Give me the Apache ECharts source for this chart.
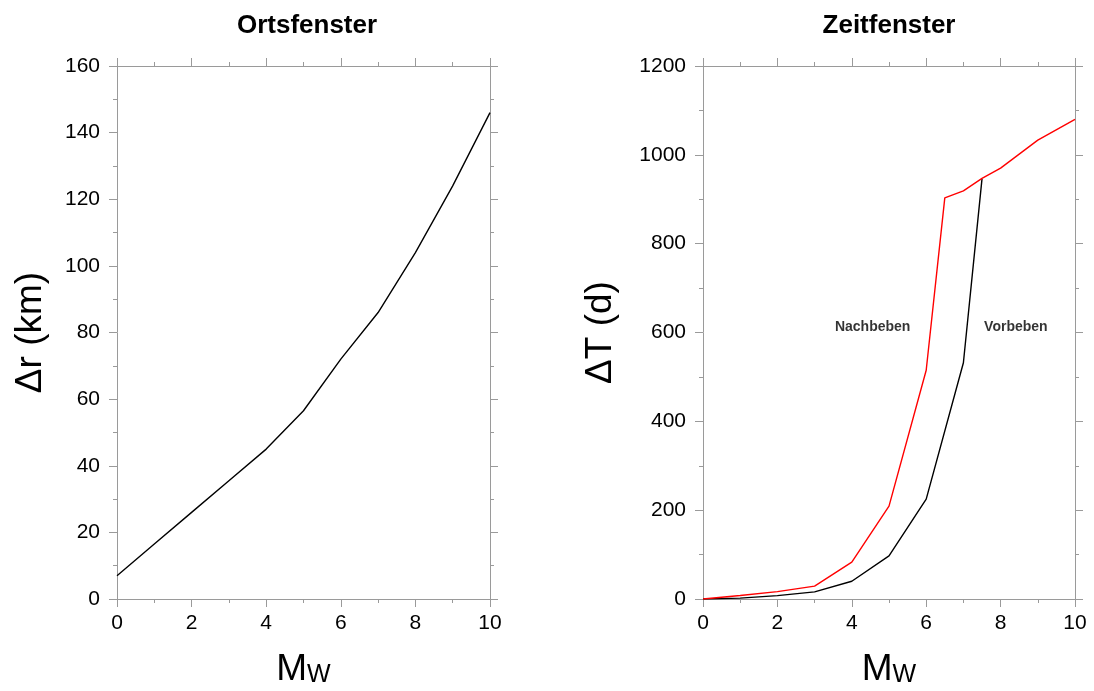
<!DOCTYPE html>
<html>
<head>
<meta charset="utf-8">
<title>Ortsfenster / Zeitfenster</title>
<script src="https://cdn.jsdelivr.net/npm/echarts@6/dist/echarts.min.js"></script>
<style>
  html, body { margin: 0; padding: 0; background: #fff; }
  #chart { width: 1094px; height: 691px; }
</style>
</head>
<body>
<div id="chart"></div>
<script>
// Ortsfenster: spatial window radius vs. moment magnitude
const mwSpace = [0, 1, 2, 3, 4, 5, 6, 7, 8, 9, 10];
const radiusKm = [7, 16.5, 26, 35.5, 45, 56.5, 72, 86, 104, 124, 146];

// Zeitfenster: time window (days) for aftershocks and foreshocks
const mwAfter = [0, 1, 2, 3, 4, 5, 6, 6.5, 7, 7.5, 8, 9, 10];
const daysAfter = [0, 8, 16.5, 29, 83, 209, 515, 903, 919, 947, 970, 1033, 1080];
const mwBefore = [0, 1, 2, 3, 4, 5, 6, 7, 7.5];
const daysBefore = [0, 2, 7.5, 16, 40, 97, 225, 532, 946];

// Curve annotations
const noteNames = ['Nachbeben', 'Vorbeben'];
const noteMw = [4.56, 8.41];
const noteDays = [612, 612];

const titles = ['Ortsfenster', 'Zeitfenster'];
const FONT = '"Liberation Sans", Helvetica, Arial, sans-serif';
const AXIS_GREY = '#9a9a9a';

const pairs = (xs, ys) => xs.map((x, i) => [x, ys[i]]);
const plain = v => String(v);

const mwName = '{m|M}{w|W}';
const mwRich = {
  m: { fontSize: 37, fontFamily: FONT, color: '#000', verticalAlign: 'top', lineHeight: 37 },
  w: { fontSize: 25, fontFamily: FONT, color: '#000', verticalAlign: 'bottom', lineHeight: 25, padding: [21, 0, 0, 0] }
};

function xAxisMain(gridIndex) {
  return {
    type: 'value', gridIndex, min: 0, max: 10, interval: 2,
    position: 'bottom',
    axisLine: { show: true, onZero: false, lineStyle: { color: AXIS_GREY, width: 1 } },
    axisTick: { show: true, inside: false, length: 8, lineStyle: { color: AXIS_GREY } },
    minorTick: { show: true, splitNumber: 2, length: 4, lineStyle: { color: AXIS_GREY } },
    splitLine: { show: false },
    axisLabel: { color: '#000', fontSize: 21, fontFamily: FONT, margin: 14, formatter: plain },
    name: mwName, nameLocation: 'middle', nameGap: 52,
    nameTextStyle: { rich: mwRich }
  };
}
function xAxisMirror(gridIndex) {
  return {
    type: 'value', gridIndex, min: 0, max: 10, interval: 2,
    position: 'top',
    axisLine: { show: true, onZero: false, lineStyle: { color: AXIS_GREY, width: 1 } },
    axisTick: { show: true, inside: false, length: 8, lineStyle: { color: AXIS_GREY } },
    minorTick: { show: true, splitNumber: 2, length: 4, lineStyle: { color: AXIS_GREY } },
    splitLine: { show: false },
    axisLabel: { show: false }
  };
}
function yAxisMain(gridIndex, max, interval, name, gap) {
  return {
    type: 'value', gridIndex, min: 0, max, interval,
    position: 'left',
    axisLine: { show: true, onZero: false, lineStyle: { color: AXIS_GREY, width: 1 } },
    axisTick: { show: true, inside: false, length: 8, lineStyle: { color: AXIS_GREY } },
    minorTick: { show: true, splitNumber: 2, length: 4, lineStyle: { color: AXIS_GREY } },
    splitLine: { show: false },
    axisLabel: { color: '#000', fontSize: 21, fontFamily: FONT, margin: 17, formatter: plain },
    name, nameLocation: 'middle', nameGap: gap, nameRotate: 90,
    nameTextStyle: { color: '#000', fontSize: 37, fontFamily: FONT }
  };
}
function yAxisMirror(gridIndex, max, interval) {
  return {
    type: 'value', gridIndex, min: 0, max, interval,
    position: 'right',
    axisLine: { show: true, onZero: false, lineStyle: { color: AXIS_GREY, width: 1 } },
    axisTick: { show: true, inside: false, length: 8, lineStyle: { color: AXIS_GREY } },
    minorTick: { show: true, splitNumber: 2, length: 4, lineStyle: { color: AXIS_GREY } },
    splitLine: { show: false },
    axisLabel: { show: false }
  };
}

const chart = echarts.init(document.getElementById('chart'), null, { renderer: 'canvas' });

chart.setOption({
  backgroundColor: '#fff',
  animation: false,
  title: [
    { text: titles[0], left: 302, top: 8, textAlign: 'center',
      textStyle: { fontSize: 26, fontWeight: 'bold', fontFamily: FONT, color: '#000' } },
    { text: titles[1], left: 884, top: 8, textAlign: 'center',
      textStyle: { fontSize: 26, fontWeight: 'bold', fontFamily: FONT, color: '#000' } }
  ],
  grid: [
    { left: 117, top: 66, width: 373, height: 533, outerBoundsMode: 'none', containLabel: false },
    { left: 703, top: 66, width: 372, height: 533, outerBoundsMode: 'none', containLabel: false }
  ],
  xAxis: [xAxisMain(0), xAxisMirror(0), xAxisMain(1), xAxisMirror(1)],
  yAxis: [
    yAxisMain(0, 160, 20, 'Δr (km)', 68), yAxisMirror(0, 160, 20),
    yAxisMain(1, 1200, 200, 'ΔT (d)', 84), yAxisMirror(1, 1200, 200)
  ],
  series: [
    {
      type: 'line', xAxisIndex: 0, yAxisIndex: 0,
      data: pairs(mwSpace, radiusKm),
      symbol: 'none', lineStyle: { color: '#000', width: 1.4 }
    },
    {
      type: 'line', xAxisIndex: 2, yAxisIndex: 2,
      data: pairs(mwBefore, daysBefore),
      symbol: 'none', lineStyle: { color: '#000', width: 1.4 }
    },
    {
      type: 'line', xAxisIndex: 2, yAxisIndex: 2,
      data: pairs(mwAfter, daysAfter),
      symbol: 'none', lineStyle: { color: '#ff0000', width: 1.4 }
    },
    {
      type: 'scatter', xAxisIndex: 2, yAxisIndex: 2,
      symbolSize: 0, silent: true,
      data: noteNames.map((n, i) => ({ name: n, value: [noteMw[i], noteDays[i]] })),
      label: {
        show: true, position: 'inside', formatter: '{b}',
        color: '#000', fontSize: 14, fontWeight: 'bold', fontFamily: FONT,
        textBorderWidth: 0
      }
    }
  ]
});
</script>
</body>
</html>
